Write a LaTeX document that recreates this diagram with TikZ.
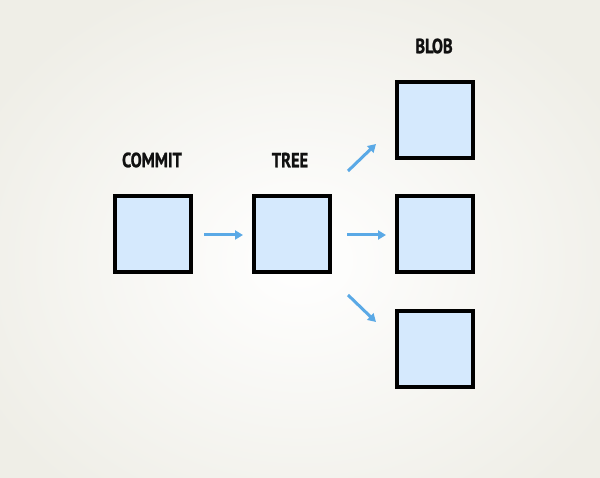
\documentclass[tikz,border=0pt]{standalone}
\usepackage{fontspec}
\setmainfont[FakeStretch=0.8,FakeBold=1.2]{PT Sans}
\usetikzlibrary{arrows.meta}
\definecolor{bgedge}{HTML}{EFEEE7}
\definecolor{boxfill}{HTML}{D5E9FD}
\definecolor{arrowblue}{HTML}{5AA9E6}
\definecolor{labelcol}{HTML}{111111}
\tikzset{
  objbox/.style={draw=black, fill=boxfill, line width=4pt, minimum width=76pt, minimum height=76pt, inner sep=0pt},
  lbl/.style={text=labelcol, font=\fontsize{20.5}{22}\selectfont\bfseries, inner sep=0pt},
  link/.style={draw=arrowblue, line width=3pt, -{Triangle[length=8pt,width=9pt]}}
}
\begin{document}
\begin{tikzpicture}[x=1pt,y=-1pt]
\useasboundingbox (0,0) rectangle (600,478);
\shade[inner color=white, outer color=bgedge] (-60,-40) rectangle (660,560);
\node[objbox] (commit) at (153,234.5) {};
\node[objbox] (tree) at (292,234.5) {};
\node[objbox] (blobtop) at (434.5,120) {};
\node[objbox] (blobmid) at (434.5,234.5) {};
\node[objbox] (blobbot) at (434.5,349.5) {};
\node[lbl] (lcommit) at (152,160) {COMMIT};
\node[lbl] (ltree) at (290,160) {TREE};
\node[lbl] (lblob) at (434,46) {BLOB};
\coordinate (a1s) at (204,235);
\coordinate (a1e) at (243,235);
\coordinate (a2s) at (347,235);
\coordinate (a2e) at (386,235);
\coordinate (a3s) at (348,171);
\coordinate (a3e) at (376,144);
\coordinate (a4s) at (348,295);
\coordinate (a4e) at (376,322);
\draw[link] (a1s) -- (a1e);
\draw[link] (a2s) -- (a2e);
\draw[link] (a3s) -- (a3e);
\draw[link] (a4s) -- (a4e);
\end{tikzpicture}
\end{document}
